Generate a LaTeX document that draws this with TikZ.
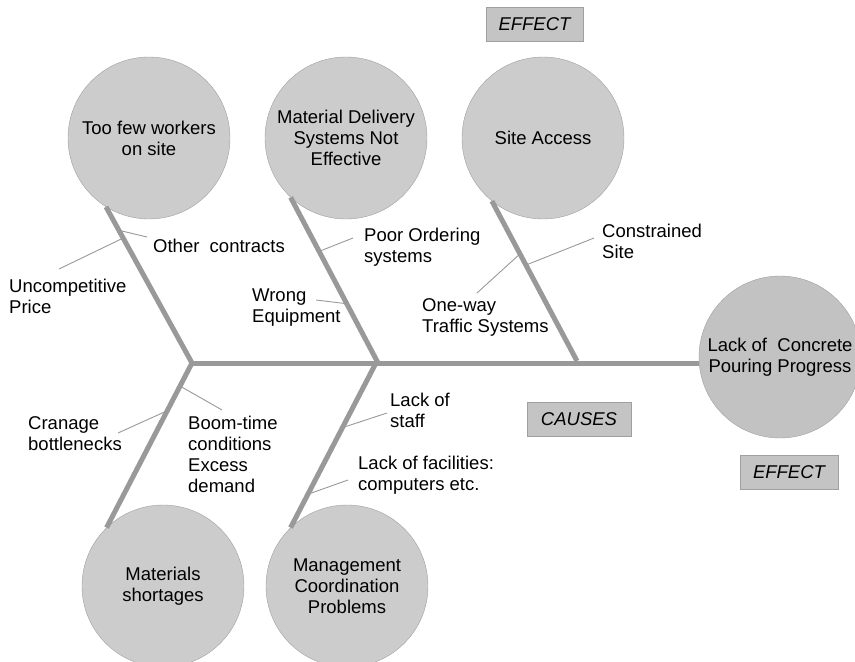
\documentclass[tikz,border=0pt]{standalone}
\usepackage{fontspec}
\setmainfont{Liberation Sans}
\usetikzlibrary{positioning}
\usepackage{xcolor}

\definecolor{causefill}{HTML}{CCCCCC}
\definecolor{effectfill}{HTML}{C2C2C2}
\definecolor{tagfill}{HTML}{C4C4C4}
\definecolor{rimgray}{HTML}{A0A0A0}
\definecolor{bonegray}{HTML}{999999}
\newcommand{\diagfont}{\fontsize{18.5}{21}\selectfont}

\begin{document}
\begin{tikzpicture}[
    x=1pt, y=-1pt,
    causecirc/.style={draw=rimgray, fill=causefill, circle, minimum size=162pt, inner sep=0pt, align=center, font=\diagfont},
    tagbox/.style={draw=rimgray, fill=tagfill, minimum height=34pt, inner sep=0pt, font=\diagfont\itshape},
    notetext/.style={anchor=north west, align=left, inner sep=0pt, font=\diagfont},
    bone/.style={draw=bonegray, line width=5pt},
    twig/.style={draw=bonegray, line width=0.9pt}
]
    \useasboundingbox (0,0) rectangle (855,662);

    % cause circles and the effect
    \node[causecirc] (few) at (149,138) {Too few workers\\on site};
    \node[causecirc] (deliv) at (346,138) {Material Delivery\\Systems Not\\Effective};
    \node[causecirc] (access) at (543,138) {Site Access};
    \node[causecirc] (short) at (163,586) {Materials\\shortages};
    \node[causecirc] (mgmt) at (347,586) {Management\\Coordination\\Problems};
    \node[causecirc, fill=effectfill] (pour) at (780,357) {Lack of\ \ Concrete\\Pouring Progress};

    \coordinate (j1) at (192,363);
    \coordinate (j2) at (377,361);
    \coordinate (j3) at (577,361);

    % spine and bones
    \draw[bone] (j1) -- (j1 -| pour.west);
    \draw[bone] (few.238) -- coordinate[pos=0.15] (oth-b) coordinate[pos=0.2] (unc-b) (j1)
        -- coordinate[pos=0.14] (boom-b) coordinate[pos=0.29] (cran-b) (short.134);
    \draw[bone] (deliv.227) -- coordinate[pos=0.33] (poor-b) coordinate[pos=0.65] (wrong-b) (j2)
        -- coordinate[pos=0.4] (staff-b) coordinate[pos=0.8] (facil-b) (mgmt.134);
    \draw[bone] (access.231) -- coordinate[pos=0.33] (one-b) coordinate[pos=0.4] (cons-b) (j3);

    % sub-causes
    \node[notetext] (oth) at (153,239) {Other\ \ contracts};
    \node[notetext] (unc) at (9,279) {Uncompetitive\\Price};
    \node[notetext] (poor) at (364,228) {Poor Ordering\\systems};
    \node[notetext] (wrong) at (252,289) {Wrong\\Equipment};
    \node[notetext] (cons) at (602,224) {Constrained\\Site};
    \node[notetext] (oneway) at (422,298) {One-way\\Traffic Systems};
    \node[notetext] (cran) at (28,416) {Cranage\\bottlenecks};
    \node[notetext] (boom) at (188,416) {Boom-time\\conditions\\Excess\\demand};
    \node[notetext] (staff) at (390,393) {Lack of\\staff};
    \node[notetext] (facil) at (358,456) {Lack of facilities:\\computers etc.};

    \draw[twig] ([shift={(-6pt,2pt)}]oth.north west) -- (oth-b);
    \draw[twig] ([shift={(50pt,10pt)}]unc.north west) -- (unc-b);
    \draw[twig] ([shift={(-11pt,-10pt)}]poor.north west) -- (poor-b);
    \draw[twig] ([shift={(64pt,-11pt)}]wrong.north west) -- (wrong-b);
    \draw[twig] ([shift={(-8pt,-14pt)}]cons.north west) -- (cons-b);
    \draw[twig] ([shift={(55pt,5pt)}]oneway.north west) -- (one-b);
    \draw[twig] ([shift={(90pt,-17pt)}]cran.north west) -- (cran-b);
    \draw[twig] ([shift={(34pt,6pt)}]boom.north west) -- (boom-b);
    \draw[twig] ([shift={(-3pt,-20pt)}]staff.north west) -- (staff-b);
    \draw[twig] ([shift={(-10pt,-24pt)}]facil.north west) -- (facil-b);

    % tags
    \node[tagbox, minimum width=97pt] (effup) at (534.5,24) {EFFECT};
    \node[tagbox, minimum width=104pt] (causetag) at (579,419) {CAUSES};
    \node[tagbox, minimum width=98pt, below=17pt of pour, xshift=9pt] (effdown) {EFFECT};
\end{tikzpicture}
\end{document}
